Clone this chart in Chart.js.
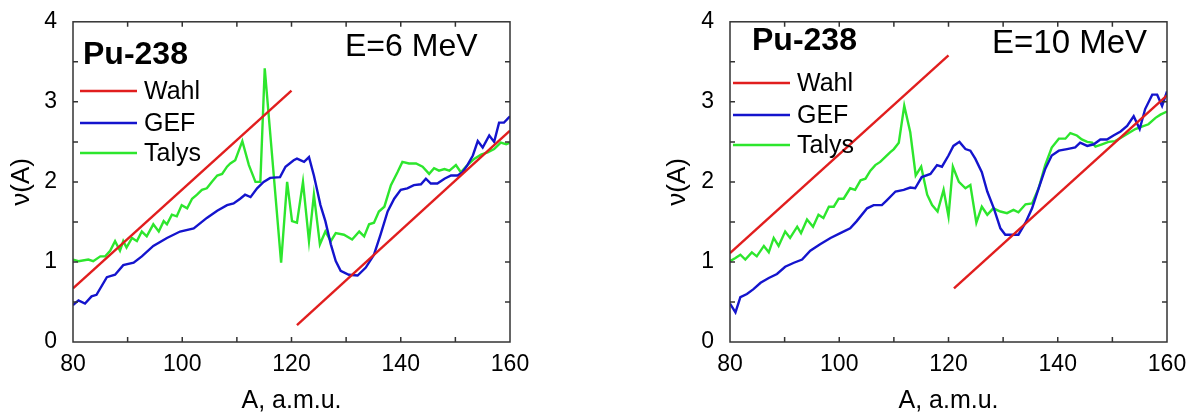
<!DOCTYPE html>
<html>
<head>
<meta charset="utf-8">
<script src="https://cdn.jsdelivr.net/npm/chart.js@4.4.1/dist/chart.umd.min.js"></script>
<style>
  body { margin: 0; background: #fff; }
  .wrap { position: relative; width: 1198px; height: 419px; }
  canvas { position: absolute; top: 0; }
</style>
</head>
<body>
<div class="wrap">
  <canvas id="chart6" width="599" height="419" style="left:0"></canvas>
  <canvas id="chart10" width="599" height="419" style="left:599px"></canvas>
</div>
<script>
  // axis ticks
  const xTicks = [80, 100, 120, 140, 160];
  const yTicks = [0, 1, 2, 3, 4];

  // E = 6 MeV
  const wahl6LoA = [80, 120];
  const wahl6LoV = [0.67, 3.14];
  const wahl6HiA = [121, 160];
  const wahl6HiV = [0.21, 2.64];

  const gef6A = [80, 81, 82.2, 83.4, 84.3, 86.2, 87.7, 89.2, 91.1, 92.6, 94.7, 97.2, 99.6, 102.1, 104.5, 106.4, 108.2, 109.4, 110.6, 111.5, 112.5, 113.7, 114.9, 116.1, 117.9, 118.9, 120.4, 121.0, 122.3, 123.2, 124.1, 125.3, 126.2, 127.2, 128.1, 129.0, 130.5, 132.1, 133.6, 135.1, 136.3, 137.6, 138.8, 140.0, 141.2, 142.4, 143.7, 144.6, 145.5, 146.7, 148.0, 149.2, 150.4, 151.3, 152.2, 153.2, 154.1, 155.0, 156.2, 157.1, 158.0, 158.9, 160];
  const gef6V = [0.46, 0.52, 0.48, 0.57, 0.59, 0.81, 0.84, 0.96, 0.99, 1.07, 1.20, 1.30, 1.38, 1.42, 1.55, 1.64, 1.71, 1.73, 1.79, 1.84, 1.81, 1.92, 2.00, 2.05, 2.06, 2.19, 2.27, 2.29, 2.25, 2.31, 2.08, 1.71, 1.51, 1.22, 1.01, 0.89, 0.84, 0.83, 0.93, 1.09, 1.34, 1.63, 1.79, 1.90, 1.92, 1.96, 1.97, 2.04, 1.98, 1.98, 2.04, 2.08, 2.08, 2.12, 2.21, 2.33, 2.51, 2.43, 2.58, 2.50, 2.74, 2.74, 2.82];

  const talys6A = [80, 81, 82.8, 83.7, 85, 85.9, 86.8, 87.7, 88.6, 89.2, 89.8, 90.8, 91.7, 92.6, 93.5, 94.7, 95.7, 96.6, 97.2, 98.1, 99.0, 99.9, 100.9, 101.8, 102.7, 103.6, 104.5, 105.4, 106.4, 107.3, 108.2, 108.8, 109.7, 111.0, 112.2, 113.4, 114.3, 115.1, 118.1, 119.2, 120.1, 121.0, 122.1, 123.2, 124.1, 125.2, 126.2, 127.2, 128.1, 129.6, 131.1, 132.4, 133.3, 134.2, 135.1, 136.0, 137.0, 138.2, 139.4, 140.3, 141.5, 142.8, 144.0, 145.2, 146.1, 147.0, 148.0, 148.9, 150.1, 151.0, 152.2, 153.5, 154.7, 155.9, 157.1, 158.3, 159.3, 160];
  const talys6V = [1.03, 1.01, 1.03, 1.01, 1.07, 1.07, 1.14, 1.26, 1.14, 1.26, 1.18, 1.30, 1.26, 1.38, 1.32, 1.47, 1.38, 1.51, 1.47, 1.59, 1.57, 1.71, 1.67, 1.79, 1.84, 1.90, 1.92, 2.00, 2.08, 2.10, 2.19, 2.23, 2.27, 2.51, 2.21, 2.00, 2.00, 3.42, 0.99, 2.00, 1.51, 1.49, 2.00, 1.26, 1.84, 1.22, 1.38, 1.26, 1.36, 1.34, 1.28, 1.38, 1.32, 1.47, 1.49, 1.63, 1.69, 1.96, 2.12, 2.25, 2.23, 2.23, 2.19, 2.10, 2.17, 2.14, 2.16, 2.14, 2.21, 2.12, 2.21, 2.29, 2.34, 2.37, 2.41, 2.49, 2.47, 2.49];

  // E = 10 MeV
  const wahl10LoA = [80, 120];
  const wahl10LoV = [1.11, 3.58];
  const wahl10HiA = [121, 160];
  const wahl10HiV = [0.67, 3.08];

  const gef10A = [80, 81.0, 81.9, 83.1, 84.3, 85.6, 87.1, 88.6, 90.1, 91.7, 93.2, 94.7, 96.5, 98.4, 100.2, 102.0, 103.2, 105.1, 106.3, 107.8, 108.7, 110.3, 111.8, 113.0, 113.9, 115.1, 116.7, 117.9, 118.8, 120.0, 120.9, 122.0, 123.1, 124.0, 124.9, 126.1, 127.1, 128.3, 129.5, 130.4, 131.6, 132.8, 134.1, 135.3, 136.5, 137.7, 138.9, 140.2, 141.7, 143.2, 144.1, 145.4, 146.6, 147.8, 149.0, 150.2, 151.5, 152.7, 153.9, 155.0, 156.0, 157.3, 158.2, 159.1, 160];
  const gef10V = [0.48, 0.37, 0.56, 0.60, 0.66, 0.74, 0.80, 0.85, 0.94, 0.99, 1.03, 1.14, 1.22, 1.30, 1.36, 1.42, 1.51, 1.67, 1.71, 1.71, 1.77, 1.88, 1.90, 1.93, 1.92, 2.06, 2.10, 2.21, 2.19, 2.33, 2.45, 2.50, 2.41, 2.39, 2.29, 2.12, 1.88, 1.67, 1.42, 1.34, 1.34, 1.34, 1.49, 1.67, 1.92, 2.16, 2.33, 2.39, 2.41, 2.43, 2.49, 2.45, 2.47, 2.53, 2.53, 2.58, 2.63, 2.70, 2.82, 2.66, 2.91, 3.09, 3.09, 2.95, 3.13];

  const talys10A = [80, 81, 81.9, 82.8, 84.0, 84.9, 86.2, 87.1, 88.0, 88.9, 90.1, 91.0, 92.3, 93.0, 94.1, 95.2, 96.2, 97.1, 98.1, 99.0, 99.9, 100.8, 102.0, 102.9, 103.9, 104.8, 105.7, 106.6, 107.5, 108.4, 109.3, 110.0, 110.9, 111.9, 113.0, 114.0, 115.0, 116.1, 117.0, 118.0, 119.1, 120.0, 120.8, 121.9, 123.1, 124.0, 125.1, 126.1, 127.1, 128.2, 129.5, 130.7, 131.9, 132.8, 134.1, 135.3, 136.5, 137.7, 138.9, 140.2, 141.4, 142.3, 143.5, 144.4, 145.4, 146.3, 146.9, 148.1, 149.3, 150.5, 151.8, 153.0, 154.2, 155.4, 156.6, 157.9, 158.8, 160];
  const talys10V = [1.01, 1.05, 1.09, 1.03, 1.12, 1.07, 1.20, 1.12, 1.30, 1.20, 1.38, 1.30, 1.44, 1.36, 1.53, 1.44, 1.59, 1.55, 1.69, 1.69, 1.79, 1.79, 1.92, 1.90, 2.02, 2.04, 2.14, 2.21, 2.25, 2.31, 2.37, 2.41, 2.49, 2.95, 2.62, 2.08, 2.19, 1.84, 1.71, 1.63, 1.90, 1.57, 2.19, 2.00, 1.92, 1.96, 1.49, 1.69, 1.59, 1.67, 1.63, 1.61, 1.65, 1.62, 1.72, 1.73, 1.92, 2.21, 2.43, 2.54, 2.54, 2.61, 2.58, 2.53, 2.50, 2.49, 2.44, 2.47, 2.50, 2.51, 2.56, 2.61, 2.66, 2.69, 2.72, 2.80, 2.84, 2.88];

  const RED = 'rgb(225, 30, 30)';
  const BLUE = 'rgb(20, 20, 205)';
  const GREEN = 'rgb(45, 230, 45)';
  const FONT = "'Liberation Sans', Arial, sans-serif";

  function toPoints(xs, ys) {
    return xs.map((x, i) => ({ x: x, y: ys[i] }));
  }

  function line(label, xs, ys, color) {
    return {
      label: label,
      data: toPoints(xs, ys),
      borderColor: color,
      backgroundColor: color,
      borderWidth: 2.4,
      pointRadius: 0,
      tension: 0,
      fill: false
    };
  }

  // box frame, inward ticks, legend and labels inside the plot
  const panelPlugin = {
    id: 'panel',
    afterDraw(chart, args, opts) {
      const ctx = chart.ctx;
      const a = chart.chartArea;
      const sx = chart.scales.x, sy = chart.scales.y;
      ctx.save();
      ctx.strokeStyle = '#333';
      ctx.lineWidth = 1.5;
      ctx.strokeRect(a.left, a.top, a.right - a.left, a.bottom - a.top);
      ctx.beginPath();
      for (let v = 90; v < 160; v += 10) {
        const px = sx.getPixelForValue(v);
        ctx.moveTo(px, a.bottom); ctx.lineTo(px, a.bottom - 5);
        ctx.moveTo(px, a.top); ctx.lineTo(px, a.top + 5);
      }
      for (let v = 0.5; v < 4; v += 0.5) {
        const py = sy.getPixelForValue(v);
        ctx.moveTo(a.left, py); ctx.lineTo(a.left + 5, py);
        ctx.moveTo(a.right, py); ctx.lineTo(a.right - 5, py);
      }
      ctx.stroke();

      // legend
      ctx.fillStyle = '#000';
      ctx.textBaseline = 'middle';
      ctx.textAlign = 'left';
      ctx.font = 'bold 32px ' + FONT;
      ctx.fillText(opts.title, opts.titleX, opts.titleY);

      const seen = [];
      chart.data.datasets.forEach(ds => {
        if (seen.indexOf(ds.label) >= 0) return;
        const y = opts.legendY[seen.length];
        seen.push(ds.label);
        ctx.strokeStyle = ds.borderColor;
        ctx.lineWidth = 2.4;
        ctx.beginPath();
        ctx.moveTo(opts.legendX, y);
        ctx.lineTo(opts.legendX + 57, y);
        ctx.stroke();
        ctx.font = '25px ' + FONT;
        ctx.fillText(ds.label, opts.legendX + 64, y + 1);
      });

      ctx.font = opts.energySize + 'px ' + FONT;
      ctx.fillText(opts.energy, opts.energyX, opts.energyY);
      ctx.restore();
    }
  };

  function makeChart(id, datasets, yWidth, rightPad, yTitlePad, text) {
    return new Chart(document.getElementById(id), {
      type: 'line',
      data: { datasets: datasets },
      options: {
        responsive: false,
        animation: false,
        layout: { padding: { left: 0, right: rightPad, top: 18, bottom: 0 } },
        plugins: {
          legend: { display: false },
          tooltip: { enabled: false },
          panel: text
        },
        scales: {
          x: {
            type: 'linear',
            min: 80, max: 160,
            afterBuildTicks: s => { s.ticks = xTicks.map(v => ({ value: v })); },
            afterFit: s => { s.height = 77; },
            grid: { display: false },
            border: { display: false },
            ticks: { color: '#000', padding: 1, font: { family: FONT, size: 23 } },
            title: {
              display: true, text: 'A, a.m.u.', color: '#000',
              font: { family: FONT, size: 25 }, padding: { top: 0, bottom: 3 }
            }
          },
          y: {
            min: 0, max: 4,
            afterBuildTicks: s => { s.ticks = yTicks.map(v => ({ value: v })); },
            afterFit: s => { s.width = yWidth; },
            grid: { display: false },
            border: { display: false },
            ticks: { color: '#000', padding: 8, font: { family: FONT, size: 23 } },
            title: {
              display: true, text: 'ν(A)', color: '#000',
              font: { family: FONT, size: 26 }, padding: { top: yTitlePad, bottom: 0 }
            }
          }
        }
      },
      plugins: [panelPlugin]
    });
  }

  makeChart('chart6', [
    line('Wahl', wahl6LoA, wahl6LoV, RED),
    line('Wahl', wahl6HiA, wahl6HiV, RED),
    line('GEF', gef6A, gef6V, BLUE),
    line('Talys', talys6A, talys6V, GREEN)
  ], 73, 89, 6, {
    title: 'Pu-238', titleX: 83, titleY: 55,
    legendX: 80, legendY: [91, 123, 153],
    energy: 'E=6 MeV', energyX: 345, energyY: 47, energySize: 32
  });

  makeChart('chart10', [
    line('Wahl', wahl10LoA, wahl10LoV, RED),
    line('Wahl', wahl10HiA, wahl10HiV, RED),
    line('GEF', gef10A, gef10V, BLUE),
    line('Talys', talys10A, talys10V, GREEN)
  ], 131, 31, 63, {
    title: 'Pu-238', titleX: 153, titleY: 41,
    legendX: 134, legendY: [83, 115, 145],
    energy: 'E=10 MeV', energyX: 393, energyY: 44, energySize: 33
  });
</script>
</body>
</html>
